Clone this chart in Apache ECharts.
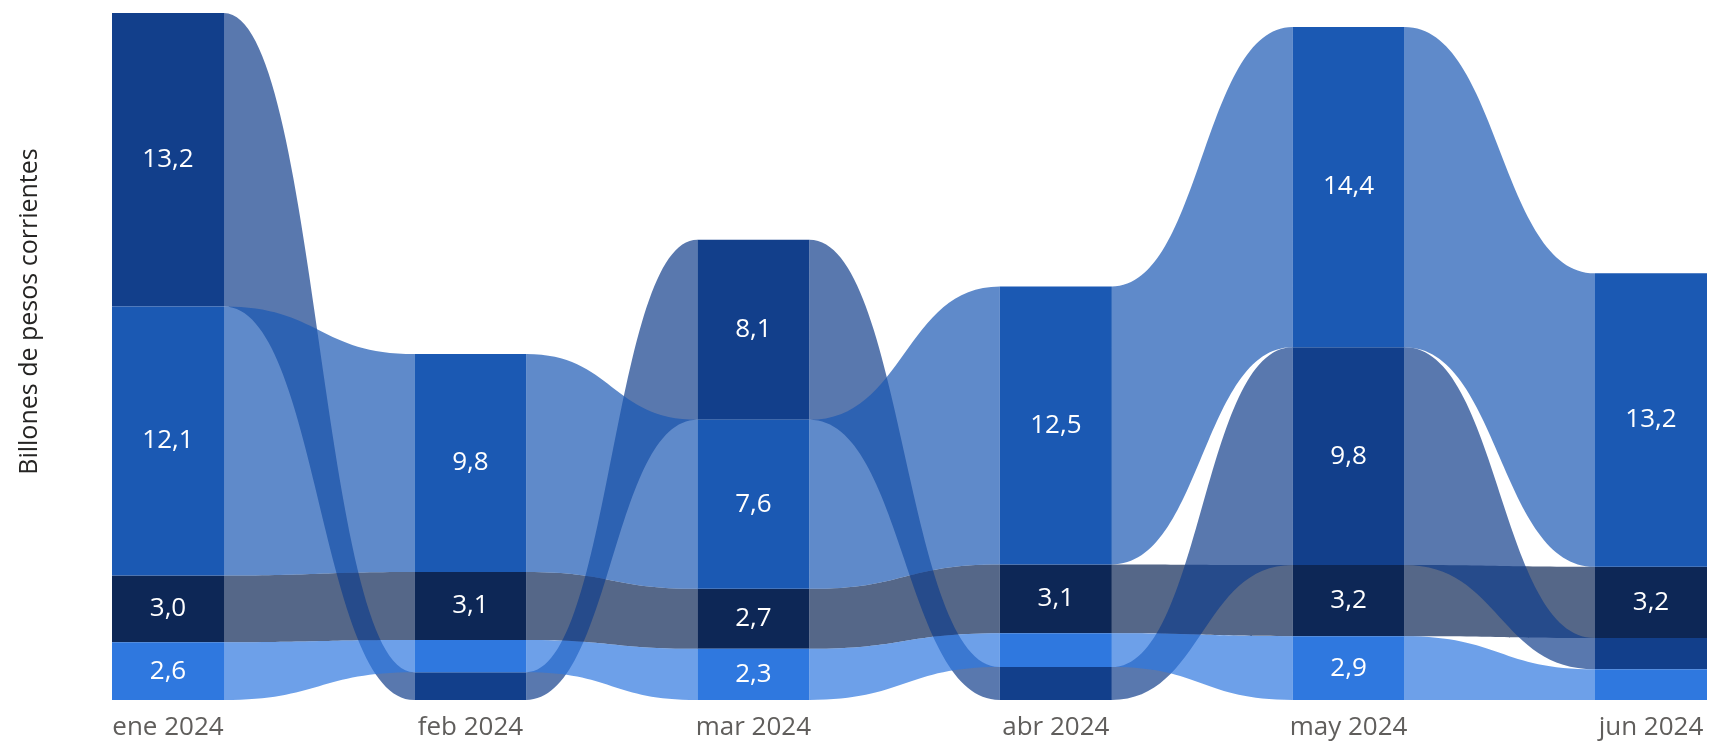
<!DOCTYPE html>
<html>
<head>
<meta charset="utf-8">
<style>
  html, body { margin: 0; padding: 0; background: #fff; }
  #chart { width: 1709px; height: 744px; }
</style>
<script src="https://cdn.jsdelivr.net/npm/echarts@6.0.0/dist/echarts.min.js"></script>
</head>
<body>
<div id="chart"></div>
<script>
// meses y fechas (el eje es de tiempo: la separación sigue los días de cada mes)
const meses = ['ene 2024', 'feb 2024', 'mar 2024', 'abr 2024', 'may 2024', 'jun 2024'];
const fechas = ['2024-01-01', '2024-02-01', '2024-03-01', '2024-04-01', '2024-05-01', '2024-06-01'];

// billones de pesos corrientes
const serieOscura = [13.2, 1.25, 8.1, 1.48, 9.8, 1.41];
const serieMedia = [12.1, 9.8, 7.6, 12.5, 14.4, 13.2];
const serieMarino = [3.0, 3.06, 2.7, 3.1, 3.2, 3.2];
const serieClara = [2.6, 1.45, 2.3, 1.52, 2.87, 1.38];

const valores = [serieOscura, serieMedia, serieMarino, serieClara];
const colores = ['#123f8b', '#1b59b3', '#0d2756', '#2f78df'];
const ordenDibujo = [2, 0, 1, 3]; // qué cinta queda encima

const fuente = '"Segoe UI", "Open Sans", sans-serif';
const medio = 5.74; // media barra, en días

const dias = fechas.map(f => (Date.parse(f) - Date.parse(fechas[0])) / 86400000);

// apilado por mes: el mayor arriba
const base = valores.map(() => []);
const totales = [];
meses.forEach((m, i) => {
  const orden = valores.map((v, s) => s).sort((a, b) => valores[a][i] - valores[b][i]);
  let acum = 0;
  orden.forEach(s => { base[s][i] = acum; acum += valores[s][i]; });
  totales.push(acum);
});

function fmt(v) {
  return v.toFixed(1).replace('.', ',');
}

function cinta(s) {
  return function (params, api) {
    const i = params.dataIndex;
    const x = api.value(0), lo = api.value(1), hi = api.value(2), v = api.value(3);
    const p0 = api.coord([x - medio, hi]);
    const p1 = api.coord([x + medio, lo]);
    const children = [];
    if (i < meses.length - 1) {
      const nb = base[s][i + 1], nt = nb + valores[s][i + 1], nx = dias[i + 1];
      const a0 = api.coord([x + medio, hi]), a1 = api.coord([x + medio, lo]);
      const b0 = api.coord([nx - medio, nt]), b1 = api.coord([nx - medio, nb]);
      const xm = (a0[0] + b0[0]) / 2;
      const d = 'M' + a0[0] + ' ' + a0[1] +
        ' C' + xm + ' ' + a0[1] + ' ' + xm + ' ' + b0[1] + ' ' + b0[0] + ' ' + b0[1] +
        ' L' + b1[0] + ' ' + b1[1] +
        ' C' + xm + ' ' + b1[1] + ' ' + xm + ' ' + a1[1] + ' ' + a1[0] + ' ' + a1[1] + ' Z';
      children.push({
        type: 'path',
        shape: { pathData: d },
        style: { fill: colores[s], opacity: 0.7 }
      });
    }
    children.push({
      type: 'rect',
      shape: { x: p0[0], y: p0[1], width: p1[0] - p0[0], height: p1[1] - p0[1] },
      style: { fill: colores[s] }
    });
    if (v >= 2) {
      children.push({
        type: 'text',
        x: (p0[0] + p1[0]) / 2,
        y: (p0[1] + p1[1]) / 2,
        silent: true,
        style: {
          text: fmt(v), fill: '#fff', font: '26px ' + fuente,
          align: 'center', verticalAlign: 'middle'
        }
      });
    }
    return { type: 'group', children: children };
  };
}

const chart = echarts.init(document.getElementById('chart'));
chart.setOption({
  animation: false,
  grid: { left: 112, right: 2, top: 13, bottom: 44, outerBoundsMode: 'none' },
  xAxis: {
    type: 'value',
    min: -medio,
    max: dias[dias.length - 1] + medio,
    axisLine: { show: false },
    axisTick: { show: false },
    splitLine: { show: false },
    axisLabel: {
      customValues: dias,
      formatter: v => meses[dias.indexOf(v)],
      color: '#605e5c',
      fontSize: 26,
      fontFamily: fuente,
      margin: 15
    }
  },
  yAxis: {
    type: 'value',
    min: 0,
    max: Math.max(...totales),
    name: 'Billones de pesos corrientes',
    nameLocation: 'middle',
    nameGap: 70,
    nameRotate: 90,
    nameTextStyle: { fontSize: 25, color: '#252423', fontFamily: fuente, padding: [0, 0, 0, 90] },
    axisLine: { show: false },
    axisTick: { show: false },
    axisLabel: { show: false },
    splitLine: { show: false }
  },
  series: ordenDibujo.map(s => ({
    type: 'custom',
    renderItem: cinta(s),
    encode: { x: 0, y: [1, 2] },
    data: meses.map((m, i) => [dias[i], base[s][i], base[s][i] + valores[s][i], valores[s][i]])
  }))
});
</script>
</body>
</html>
